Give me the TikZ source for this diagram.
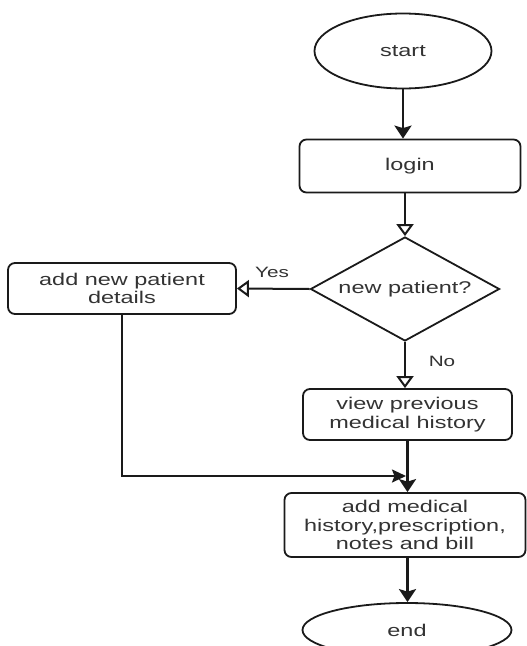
\documentclass[tikz,border=0pt]{standalone}
\usepackage{fontspec}
\setmainfont{Liberation Sans}[FakeStretch=1.38]
\usetikzlibrary{shapes.geometric,arrows.meta}
\definecolor{txt}{HTML}{333333}
\definecolor{ln}{HTML}{1A1A1A}
\tikzset{
  box/.style={draw=ln, line width=1.8pt, rounded corners=7pt, align=center, text=txt, font=\fontsize{17}{18.5}\selectfont},
  oval/.style={draw=ln, line width=1.8pt, ellipse, text=txt, font=\fontsize{17}{18.5}\selectfont},
  dia/.style={draw=ln, line width=1.8pt, diamond, aspect=1.8, inner sep=0pt, text=txt, font=\fontsize{17}{18.5}\selectfont},
  solidarrow/.style={draw=ln, line width=2.3pt, -{Stealth[length=13pt,width=17pt,inset=2.5pt]}},
  joinarrow/.style={draw=ln, line width=2.2pt, -{Stealth[length=14pt,width=13pt,inset=2.5pt]}},
  openarrow/.style={draw=ln, line width=2pt, -{Triangle[open,length=12pt,width=17pt,fill=white]}},
  lbl/.style={text=txt, font=\fontsize{15}{16}\selectfont}
}
\begin{document}
\begin{tikzpicture}[x=1pt,y=-1pt]
\useasboundingbox (0,0) rectangle (527,646);
\clip (0,0) rectangle (527,646);
\fill[white] (0,0) rectangle (527,646);
\node[oval, minimum width=177pt, minimum height=75pt] (start) at (403,51) {start};
\node[box, minimum width=221pt, minimum height=53pt] (login) at (410,166) {login};
\node[dia, minimum width=189pt, minimum height=104pt] (dec) at (405,289) {new patient?};
\node[box, minimum width=228pt, minimum height=51pt] (newp) at (122,288.5) {add new patient\\details};
\node[box, minimum width=209pt, minimum height=51pt] (view) at (407.5,414.5) {view previous\\medical history};
\node[box, minimum width=241pt, minimum height=64pt] (addmed) at (405,525) {add medical\\history,prescription,\\notes and bill};
\node[oval, minimum width=209pt, minimum height=54pt] (end) at (407,630) {end};
\node[lbl] (yes) at (272,272) {Yes};
\node[lbl] (no) at (442,361) {No};
\coordinate (join) at (406,476);
\draw[solidarrow] (start.south) -- (start.south |- login.north);
\draw[openarrow] (dec.north |- login.south) -- (dec.north);
\draw[openarrow] (dec.west) -- (newp.east);
\draw[openarrow] (dec.south) -- (dec.south |- view.north);
\draw[solidarrow] (view.south) -- (view.south |- addmed.north);
\draw[joinarrow] (newp.south) |- (join);
\draw[solidarrow] (addmed.south -| view.south) -- (view.south |- end.north);
\end{tikzpicture}
\end{document}
